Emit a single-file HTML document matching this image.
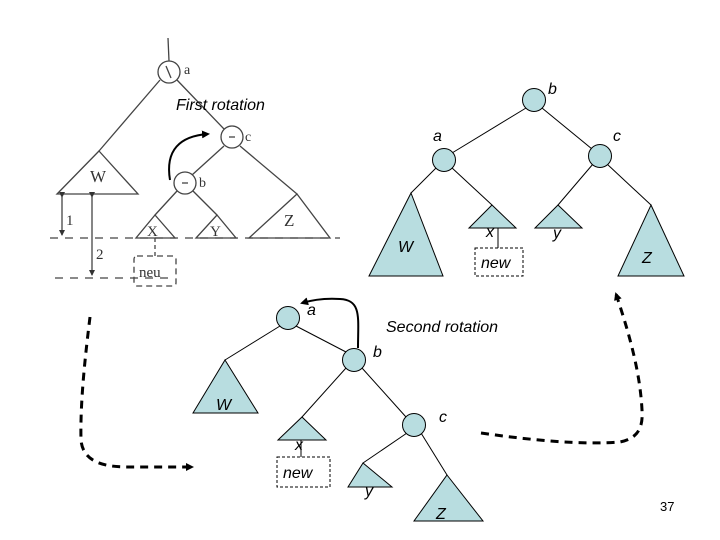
<!DOCTYPE html>
<html><head><meta charset="utf-8"><style>
html,body{margin:0;padding:0;background:#fff;}
svg{display:block;}
</style></head><body>
<svg width="720" height="540" viewBox="0 0 720 540" xmlns="http://www.w3.org/2000/svg">
<defs>
<marker id="ah" markerWidth="8" markerHeight="8" refX="6" refY="4" orient="auto" markerUnits="userSpaceOnUse"><path d="M0,0 L8,4 L0,8 z" fill="#000"/></marker>
<marker id="sa" markerWidth="6" markerHeight="6" refX="5" refY="3" orient="auto" markerUnits="userSpaceOnUse"><path d="M0,0 L6,3 L0,6 z" fill="#333"/></marker>
</defs>
<g stroke="#444" stroke-width="1.3" fill="none">
<line x1="168" y1="38" x2="169" y2="61"/>
<circle cx="169" cy="72" r="11"/>
<line x1="166" y1="66" x2="171" y2="78"/>
<line x1="160" y1="80" x2="99" y2="151"/>
<line x1="177" y1="80" x2="224" y2="129"/>
<circle cx="232" cy="137" r="11"/>
<line x1="229" y1="137" x2="235" y2="137"/>
<line x1="224" y1="146" x2="192" y2="175"/>
<line x1="240" y1="146" x2="297" y2="194"/>
<circle cx="185" cy="183" r="11"/>
<line x1="182" y1="183" x2="188" y2="183"/>
<line x1="177" y1="191" x2="155" y2="215"/>
<line x1="193" y1="191" x2="217" y2="215"/>
<path d="M99,151 L138,194 L57,194 Z"/>
<path d="M297,194 L330,238 L249,238 Z"/>
<path d="M155,215 L175,238 L136,238 Z"/>
<path d="M217,215 L236,238 L196,238 Z"/>
<line x1="50" y1="238" x2="340" y2="238" stroke-dasharray="8,7"/>
<line x1="55" y1="278" x2="172" y2="278" stroke-dasharray="8,7"/>
<line x1="62" y1="197" x2="62" y2="235" marker-start="url(#sa)" marker-end="url(#sa)"/>
<line x1="92" y1="197" x2="92" y2="275" marker-start="url(#sa)" marker-end="url(#sa)"/>
<line x1="155" y1="238" x2="155" y2="256" stroke-dasharray="4,3"/>
<rect x="134" y="256" width="42" height="30" rx="3" stroke-dasharray="6,4"/>
</g>
<g font-family="Liberation Serif, serif" fill="#333" font-size="15">
<text x="184" y="74" font-size="14">a</text>
<text x="245" y="141" font-size="14">c</text>
<text x="199" y="187" font-size="14">b</text>
<text x="90" y="182" font-size="17">W</text>
<text x="284" y="226" font-size="17">Z</text>
<text x="147" y="236" font-size="15">X</text>
<text x="210" y="236" font-size="15">Y</text>
<text x="66" y="225">1</text>
<text x="96" y="259">2</text>
<text x="139" y="277" font-size="15">neu</text>
</g>
<path d="M170,180 C165,150 180,136 208,134" stroke="#000" stroke-width="2" fill="none" marker-end="url(#ah)"/>
<text x="176" y="110" font-family="Liberation Sans, sans-serif" font-style="italic" font-size="16">First rotation</text>

<g stroke="#000" stroke-width="1" fill="#b8dde0">
<line x1="526" y1="108" x2="452" y2="153"/>
<line x1="542" y1="108" x2="592" y2="149"/>
<line x1="437" y1="167" x2="411" y2="193"/>
<line x1="451" y1="167" x2="492" y2="205"/>
<line x1="593" y1="164" x2="558" y2="205"/>
<line x1="607" y1="164" x2="651" y2="205"/>
<circle cx="534" cy="100" r="11.5"/>
<circle cx="444" cy="160" r="11.5"/>
<circle cx="600" cy="156" r="11.5"/>
<path d="M411,193 L443,276 L369,276 Z"/>
<path d="M492,205 L516,228 L469,228 Z"/>
<path d="M558,205 L582,228 L535,228 Z"/>
<path d="M651,205 L684,276 L618,276 Z"/>
<line x1="498" y1="228" x2="498" y2="248"/>
<rect x="475" y="248" width="48" height="28" fill="none" stroke-dasharray="3,2"/>
</g>
<g font-family="Liberation Sans, sans-serif" font-style="italic" font-size="16" fill="#000">
<text x="548" y="94">b</text>
<text x="433" y="141">a</text>
<text x="613" y="141">c</text>
<text x="398" y="252">W</text>
<text x="486" y="237">x</text>
<text x="553" y="238">y</text>
<text x="642" y="263">Z</text>
<text x="481" y="268">new</text>
</g>

<g stroke="#000" stroke-width="1" fill="#b8dde0">
<line x1="280" y1="326" x2="225" y2="360"/>
<line x1="296" y1="326" x2="346" y2="352"/>
<line x1="346" y1="368" x2="302" y2="417"/>
<line x1="362" y1="368" x2="406" y2="417"/>
<line x1="407" y1="433" x2="363" y2="463"/>
<line x1="421" y1="433" x2="447" y2="475"/>
<circle cx="288" cy="318" r="11.5"/>
<circle cx="354" cy="360" r="11.5"/>
<circle cx="414" cy="425" r="11.5"/>
<path d="M225,360 L258,413 L193,413 Z"/>
<path d="M302,417 L326,440 L278,440 Z"/>
<path d="M363,463 L392,487 L348,487 Z"/>
<path d="M447,475 L483,521 L414,521 Z"/>
<line x1="301" y1="440" x2="301" y2="457"/>
<rect x="277" y="457" width="53" height="30" fill="none" stroke-dasharray="3,2"/>
</g>
<g font-family="Liberation Sans, sans-serif" font-style="italic" font-size="16" fill="#000">
<text x="307" y="315">a</text>
<text x="373" y="357">b</text>
<text x="439" y="422">c</text>
<text x="216" y="410">W</text>
<text x="295" y="450">x</text>
<text x="365" y="496">y</text>
<text x="436" y="519">Z</text>
<text x="283" y="478">new</text>
<text x="386" y="332">Second rotation</text>
</g>
<path d="M358,348 C358,318 362,300 340,299 C325,298 312,300 302,303" stroke="#000" stroke-width="2" fill="none" marker-end="url(#ah)"/>

<path d="M90,317 C86,350 80,400 81,440 C83,465 110,467 130,467 L192,467" stroke="#000" stroke-width="3" fill="none" stroke-dasharray="8,6" marker-end="url(#ah)"/>
<path d="M481,433 C530,440 580,445 620,442 C640,438 643,425 642,410 C640,370 628,330 616,294" stroke="#000" stroke-width="3" fill="none" stroke-dasharray="8,6" marker-end="url(#ah)"/>

<text x="660" y="511" font-family="Liberation Sans, sans-serif" font-size="13" fill="#000">37</text>
</svg>
</body></html>
